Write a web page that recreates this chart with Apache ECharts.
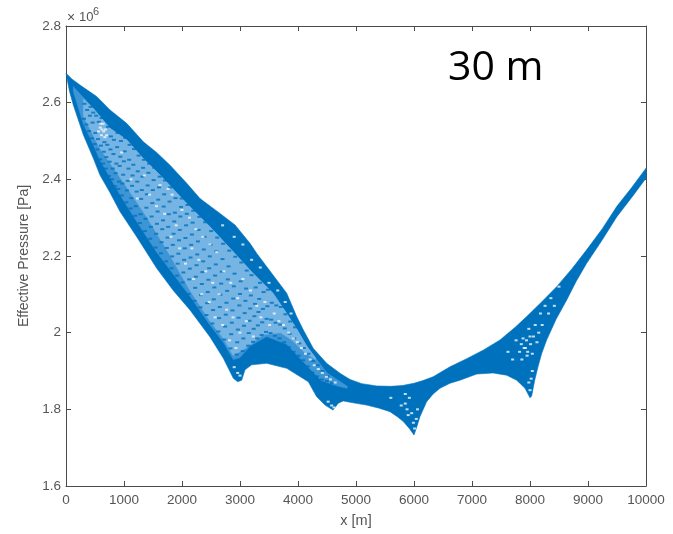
<!DOCTYPE html>
<html><head><meta charset="utf-8">
<style>html,body{margin:0;padding:0;background:#fff}#c{width:673px;height:534px}</style>
<script src="https://cdn.jsdelivr.net/npm/echarts@6/dist/echarts.min.js"></script>
</head><body><div id="c"></div>
<script>
const upperEdge = [[0,2.677],[100,2.662],[241,2.646],[529,2.616],[759,2.581],[1046,2.546],[1333,2.498],[1563,2.47],[1793,2.437],[2081,2.39],[2310,2.35],[2655,2.311],[2914,2.281],[3172,2.233],[3287,2.207],[3546,2.155],[3805,2.103],[3977,2.042],[4092,2.007],[4264,1.959],[4494,1.92],[4724,1.894],[4897,1.878],[5100,1.867],[5357,1.861],[5600,1.86],[5800,1.862],[6000,1.868],[6155,1.875],[6330,1.885],[6621,1.911],[6908,1.932],[7200,1.955],[7483,1.981],[7750,2.015],[7943,2.042],[8200,2.08],[8460,2.12],[8720,2.166],[8977,2.216],[9250,2.272],[9495,2.329],[9750,2.378],[10000,2.429]];
const lowerEdge = [[0,2.677],[60,2.63],[126,2.594],[299,2.516],[471,2.455],[586,2.411],[760,2.365],[931,2.316],[1219,2.25],[1564,2.168],[1850,2.11],[2138,2.059],[2483,1.989],[2713,1.933],[2885,1.881],[2960,1.872],[3029,1.876],[3086,1.903],[3201,1.916],[3460,1.92],[3805,1.907],[4178,1.872],[4322,1.833],[4466,1.811],[4604,1.798],[4694,1.816],[4780,1.822],[4950,1.817],[5184,1.811],[5400,1.803],[5586,1.794],[5720,1.78],[5816,1.768],[5920,1.75],[6000,1.733],[6050,1.755],[6103,1.781],[6160,1.8],[6218,1.82],[6330,1.84],[6448,1.855],[6620,1.868],[6793,1.876],[7080,1.892],[7362,1.895],[7598,1.889],[7770,1.876],[7914,1.855],[8000,1.83],[8029,1.835],[8080,1.875],[8138,1.911],[8200,1.945],[8287,1.981],[8450,2.035],[8632,2.085],[8800,2.135],[8977,2.181],[9250,2.243],[9495,2.302],[9750,2.352],[10000,2.403]];
const sparseUpper = [[126,2.642],[471,2.585],[759,2.533],[1046,2.503],[1328,2.455],[1621,2.411],[2081,2.337],[2483,2.276],[2828,2.22],[3224,2.155],[3569,2.103],[3805,2.05],[3977,2.01],[4150,1.965],[4300,1.935],[4500,1.895],[4700,1.875],[4850,1.86]];
const sparseLower = [[126,2.63],[299,2.545],[471,2.49],[586,2.45],[931,2.36],[1219,2.29],[1564,2.21],[2138,2.095],[2483,2.02],[2713,1.975],[2885,1.93],[3000,1.935],[3172,1.965],[3460,1.99],[3805,1.97],[4178,1.91],[4400,1.875],[4700,1.86],[4850,1.855]];
const paleUpper = [[300,2.61],[471,2.585],[759,2.533],[1046,2.503],[1328,2.455],[1621,2.411],[2081,2.337],[2483,2.276],[2828,2.22],[3224,2.155],[3569,2.103],[3805,2.05],[3977,2.01],[4150,1.965],[4300,1.935]];
const paleLower = [[300,2.565],[586,2.48],[1000,2.39],[1400,2.3],[1800,2.2],[2138,2.11],[2483,2.03],[2713,1.985],[2885,1.94],[3100,1.96],[3400,1.995],[3700,2.0],[3900,1.98],[4100,1.95],[4300,1.93]];
const sparsePoints = [
[310,2.558],[318,2.597],[352,2.543],[365,2.581],[398,2.526],[412,2.566],[425,2.589],[446,2.507],[458,2.548],[470,2.574],[497,2.492],[506,2.521],[521,2.566],[543,2.478],[552,2.505],[566,2.55],[590,2.452],[603,2.488],[612,2.56],[638,2.441],[651,2.472],[663,2.497],[685,2.428],[695,2.458],[712,2.49],[722,2.537],[741,2.409],[752,2.446],[766,2.478],[774,2.512],[793,2.4],[805,2.428],[818,2.466],[826,2.503],[847,2.382],[856,2.416],[868,2.441],[881,2.484],[889,2.521],[903,2.375],[914,2.394],[925,2.435],[936,2.459],[948,2.5],[963,2.358],[972,2.389],[986,2.412],[998,2.447],[1012,2.473],[1023,2.508],[1041,2.34],[1052,2.371],[1066,2.396],[1078,2.428],[1089,2.451],[1096,2.49],[1114,2.324],[1127,2.351],[1139,2.383],[1148,2.41],[1161,2.438],[1172,2.479],[1192,2.305],[1203,2.33],[1218,2.368],[1229,2.394],[1238,2.421],[1251,2.462],[1273,2.286],[1284,2.309],[1296,2.349],[1307,2.372],[1318,2.407],[1329,2.43],[1342,2.451],[1361,2.265],[1372,2.297],[1386,2.326],[1394,2.361],[1408,2.384],[1421,2.417],[1433,2.441],[1452,2.245],[1464,2.276],[1476,2.303],[1488,2.338],[1497,2.372],[1511,2.398],[1524,2.43],[1543,2.222],[1556,2.258],[1568,2.284],[1579,2.316],[1590,2.347],[1604,2.379],[1616,2.407],[1637,2.207],[1648,2.236],[1659,2.27],[1672,2.293],[1684,2.329],[1693,2.361],[1706,2.397],[1726,2.186],[1738,2.221],[1751,2.248],[1762,2.276],[1773,2.309],[1785,2.342],[1797,2.379],[1819,2.168],[1831,2.199],[1842,2.229],[1854,2.258],[1866,2.29],[1877,2.313],[1889,2.351],[1914,2.149],[1926,2.18],[1938,2.206],[1949,2.241],[1961,2.268],[1972,2.303],[1984,2.328],[1996,2.35],[2012,2.131],[2024,2.157],[2036,2.19],[2047,2.22],[2059,2.247],[2071,2.28],[2083,2.31],[2095,2.333],[2112,2.101],[2124,2.139],[2135,2.167],[2147,2.196],[2159,2.229],[2171,2.256],[2183,2.287],[2195,2.318],[2216,2.083],[2227,2.117],[2239,2.146],[2251,2.176],[2263,2.204],[2275,2.238],[2286,2.268],[2298,2.302],[2318,2.066],[2329,2.098],[2342,2.127],[2353,2.158],[2365,2.186],[2376,2.217],[2388,2.25],[2399,2.288],[2421,2.046],[2433,2.077],[2444,2.106],[2456,2.138],[2468,2.168],[2479,2.199],[2491,2.229],[2503,2.265],[2524,2.024],[2536,2.059],[2548,2.087],[2559,2.118],[2571,2.149],[2583,2.178],[2594,2.212],[2606,2.248],[2628,2.003],[2639,2.038],[2651,2.067],[2662,2.099],[2675,2.128],[2686,2.159],[2698,2.192],[2709,2.232],[2731,1.982],[2743,2.016],[2755,2.047],[2767,2.078],[2778,2.109],[2790,2.139],[2802,2.173],[2814,2.214],[2836,1.959],[2848,1.996],[2859,2.026],[2871,2.058],[2883,2.089],[2894,2.121],[2906,2.154],[2918,2.198],[2941,1.943],[2952,1.975],[2964,2.008],[2976,2.039],[2987,2.071],[2999,2.101],[3011,2.134],[3023,2.183],[3046,1.952],[3058,1.985],[3069,2.018],[3081,2.051],[3093,2.083],[3104,2.115],[3116,2.162],[3140,1.966],[3152,1.999],[3164,2.031],[3175,2.063],[3187,2.097],[3199,2.15],[3225,1.976],[3236,2.01],[3248,2.043],[3259,2.075],[3271,2.118],[3296,1.985],[3308,2.019],[3319,2.054],[3331,2.088],[3344,2.13],[3372,1.994],[3383,2.027],[3395,2.062],[3407,2.106],[3448,2.002],[3460,2.036],[3471,2.069],[3483,2.112],[3526,1.999],[3537,2.034],[3549,2.078],[3602,1.992],[3614,2.026],[3626,2.071],[3681,1.985],[3692,2.021],[3704,2.067],[3761,1.975],[3772,2.011],[3784,2.048],[3843,1.962],[3855,1.997],[3866,2.029],[3924,1.95],[3936,1.985],[3948,2.014],[4011,1.94],[4023,1.972],[4089,1.928],[4101,1.96],[4169,1.912],[4181,1.945],[4248,1.896],[4261,1.926],[4329,1.886],[4341,1.915],[4412,1.878],[4424,1.9],[4497,1.874],[4508,1.887],[4586,1.869]
];
const gapPoints = [[590,2.535],[620,2.53],[650,2.525],[640,2.545],[610,2.515],[670,2.51],[560,2.525],[600,2.545],[680,2.53],[700,2.515],
[960,2.47],[1120,2.4],[1230,2.35],[1350,2.41],[1440,2.36],[1560,2.33],[1620,2.385],[1700,2.31],[1760,2.375],[1810,2.25],[1830,2.36],[1900,2.28],[1960,2.22],[2000,2.32],[2060,2.18],[2130,2.3],[2170,2.22],[2200,2.14],[2240,2.27],[2290,2.19],[2340,2.1],[2360,2.25],[2410,2.16],[2470,2.08],[2480,2.23],[2530,2.13],[2570,2.04],[2600,2.21],[2640,2.1],[2700,2.02],[2720,2.16],[2770,2.06],[2820,1.98],[2840,2.13],[2880,2.04],[2930,1.96],[2960,2.09],[3000,2.0],[3050,2.14],[3110,2.03],[3180,2.11],[3230,1.99],[3290,2.07],[3360,2.04],[3430,2.08],[3510,2.02],[3590,2.05],[3670,2.03],[3750,2.02],[3840,2.0],[3920,1.985],[3990,1.975],[4060,1.96],[4130,1.945],[4210,1.93],[4280,1.915],[4350,1.905],[4420,1.895],[4490,1.885],[4560,1.878],[4640,1.87],
[2700,2.28],[2900,2.25],[3050,2.23],[3200,2.19],[3350,2.17],[3500,2.13],[3650,2.11],[3780,2.08],[3880,2.05],
[5780,1.81],[5850,1.815],[5880,1.8],[5920,1.83],[5960,1.79],[5990,1.765],[6010,1.75],[6040,1.775],[6060,1.8],[5900,1.785],[5850,1.84],[5600,1.83],[4580,1.81],[4620,1.805],[4520,1.82],[2960,1.895],[2900,1.91],[3000,1.888],
[7620,1.95],[7700,1.93],[7760,1.98],[7820,1.95],[7860,1.93],[7880,1.985],[7920,1.96],[7950,1.94],[7980,2.01],[8010,1.97],[8040,1.945],[8060,1.99],[8090,2.02],[8120,1.975],[8150,2.0],[8180,2.05],[8210,2.02],[8260,2.07],[8320,2.05],[8360,2.09],[8420,2.07],[8500,2.12],[8020,1.88],[8000,1.85],[7980,1.87],[8040,1.9],[7900,1.96],[7940,1.98],[8000,1.99],[7850,1.97],[7960,1.95]];

const polygon = (name, outline, color, z) => ({
  type:'custom', name, silent:true, animation:false, z,
  data: outline,
  encode:{x:0,y:1},
  renderItem:(p,api)=>{
    if(p.dataIndex!==0) return;
    return {type:'polygon',shape:{points:outline.map(q=>api.coord(q))},style:{fill:color,stroke:color,lineWidth:0.6}};
  }
});
const closed = (a,b) => a.concat(b.slice().reverse());
const axisLine = {lineStyle:{color:'#4a4a4a',width:1}};
const axisBase = {axisLine:{show:true,onZero:false,...axisLine},axisTick:{show:true,inside:true,length:5,lineStyle:{color:'#4a4a4a'}},splitLine:{show:false}};
const lab = {color:'#555',fontFamily:'Liberation Sans',fontSize:13.5};
const chart = echarts.init(document.getElementById('c'),null,{renderer:'canvas'});
chart.setOption({
  animation:false,backgroundColor:'#fff',
  grid:{left:66,right:27,top:26,bottom:48,containLabel:false},
  xAxis:[
   {type:'value',min:0,max:10000,interval:1000,position:'bottom',...axisBase,axisLabel:{...lab,margin:7,formatter:v=>String(v)},name:'x [m]',nameLocation:'middle',nameGap:27,nameTextStyle:{...lab,fontSize:14.5}},
   {type:'value',min:0,max:10000,interval:1000,position:'top',...axisBase,axisLabel:{show:false}}
  ],
  yAxis:[
   {type:'value',min:1.6,max:2.8,interval:0.2,position:'left',...axisBase,axisLabel:{...lab,margin:5,formatter:v=>String(+v.toFixed(1))},name:'Effective Pressure [Pa]',nameLocation:'middle',nameGap:30,nameTextStyle:{...lab,fontSize:14}},
   {type:'value',min:1.6,max:2.8,interval:0.2,position:'right',...axisBase,axisLabel:{show:false}}
  ],
  graphic:[
   {type:'text',left:448,top:48,style:{text:'30 m',font:'41px "Open Sans"',fill:'#000'}},
   {type:'text',left:67,top:11,style:{text:'×',font:'14px "Liberation Sans"',fill:'#555'}},
   {type:'text',left:79,top:11,style:{text:'10',font:'13px "Liberation Sans"',fill:'#555'}},
   {type:'text',left:93,top:6,style:{text:'6',font:'11px "Liberation Sans"',fill:'#555'}}
  ],
  series:[
   polygon('envelope',closed(upperEdge,lowerEdge),'#0072bd',2),
   polygon('sparse',closed(sparseUpper,sparseLower),'#3d95d6',3),
   polygon('pale',closed(paleUpper,paleLower),'#76b4e4',4),
   {type:'scatter',name:'points',data:sparsePoints,symbol:'rect',symbolSize:[4,2],itemStyle:{color:'#0072bd'},silent:true,z:5},
   {type:'scatter',name:'gaps',data:gapPoints,symbol:'rect',symbolSize:[3,2],itemStyle:{color:'#f4f9fd'},silent:true,z:6}
  ]
});
</script></body></html>
